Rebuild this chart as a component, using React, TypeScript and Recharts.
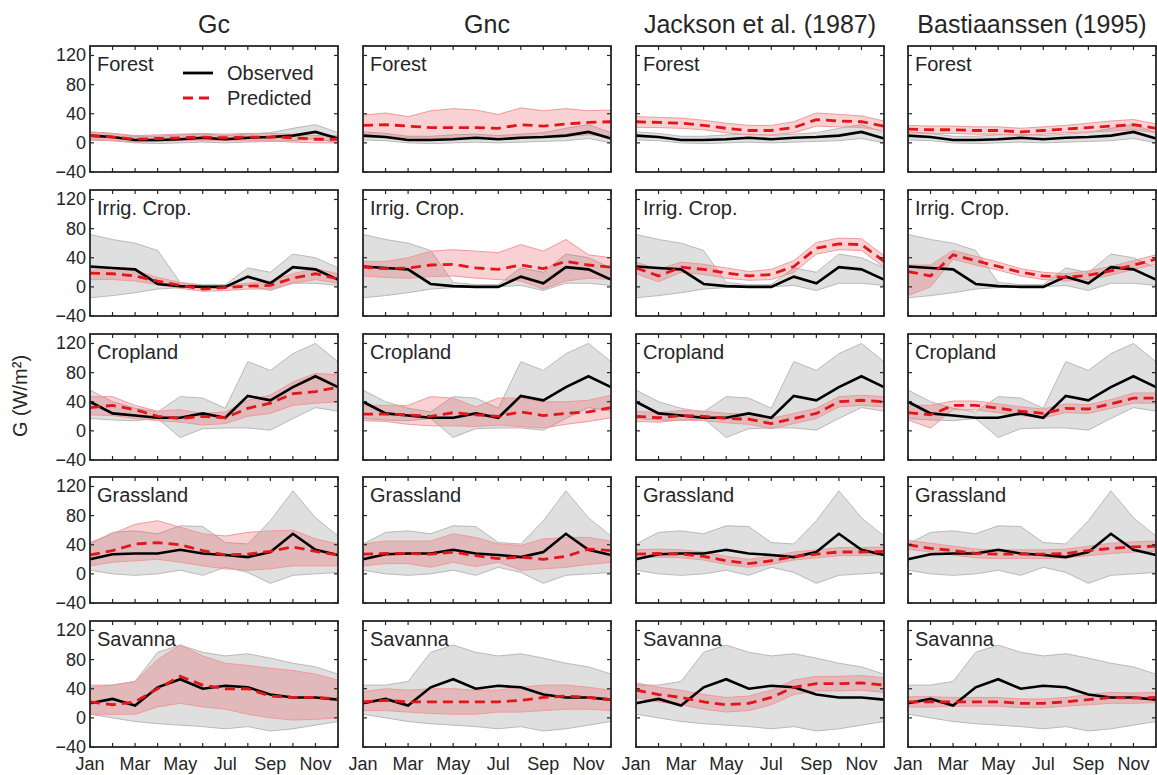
import { Area, ComposedChart, Line, XAxis, YAxis } from "recharts";

const months = ["Jan", "Feb", "Mar", "Apr", "May", "Jun", "Jul", "Aug", "Sep", "Oct", "Nov", "Dec"];
const monthTicks = [1, 2, 3, 4, 5, 6, 7, 8, 9, 10, 11, 12];
const yTicks = [-40, 0, 40, 80, 120];
const methods = ["Gc", "Gnc", "Jackson et al. (1987)", "Bastiaanssen (1995)"];
const landCovers = ["Forest", "Irrig. Crop.", "Cropland", "Grassland", "Savanna"];

// observed G, with its spread
const forestObs = [10, 8, 4, 4, 5, 7, 5, 7, 8, 10, 15, 6];
const forestObsLo = [4, 3, 0, -1, 0, 1, 0, 1, 2, 3, 6, 0];
const forestObsHi = [15, 13, 9, 9, 11, 12, 10, 12, 14, 20, 25, 14];
const irrigObs = [28, 26, 24, 4, 1, 0, 0, 14, 5, 27, 24, 10];
const irrigObsLo = [-15, -12, -8, -3, -1, 0, 0, 2, -5, 5, 5, 2];
const irrigObsHi = [72, 65, 60, 50, 6, 3, 3, 26, 20, 45, 40, 26];
const cropObs = [40, 24, 21, 18, 18, 24, 18, 48, 42, 60, 75, 60];
const cropObsLo = [17, 15, 14, 17, -9, 3, 4, 4, 1, 17, 32, 27];
const cropObsHi = [56, 40, 31, 26, 47, 45, 31, 95, 83, 106, 120, 95];
const grassObs = [20, 27, 28, 28, 33, 28, 26, 23, 30, 55, 33, 26];
const grassObsLo = [5, 0, -2, 0, 5, -2, 9, 2, -13, -2, 0, 2];
const grassObsHi = [41, 57, 59, 55, 66, 65, 43, 41, 73, 114, 77, 52];
const savObs = [20, 26, 17, 42, 53, 40, 44, 42, 32, 28, 28, 25];
const savObsLo = [5, 0, -5, -8, -10, -12, -15, -12, -18, -15, -10, -5];
const savObsHi = [45, 45, 50, 90, 100, 90, 85, 88, 82, 75, 70, 60];

// predicted G per method
const forestGc = [10, 8, 5, 6, 7, 8, 7, 8, 8, 7, 5, 5];
const forestGcLo = [4, 3, 1, 2, 3, 3, 3, 3, 3, 1, 0, 0];
const forestGcHi = [15, 13, 10, 11, 12, 13, 12, 13, 13, 12, 10, 10];
const forestGnc = [24, 25, 23, 21, 21, 21, 20, 25, 23, 26, 28, 29];
const forestGncLo = [8, 9, 7, 6, 7, 7, 6, 8, 8, 9, 11, 10];
const forestGncHi = [38, 41, 36, 44, 47, 45, 39, 48, 44, 47, 44, 45];
const forestJac = [29, 28, 27, 24, 20, 17, 17, 21, 32, 30, 29, 23];
const forestJacLo = [21, 21, 20, 18, 14, 11, 11, 14, 23, 22, 21, 17];
const forestJacHi = [36, 35, 34, 31, 27, 24, 24, 29, 41, 39, 37, 30];
const forestBas = [19, 18, 18, 17, 17, 15, 17, 19, 21, 23, 25, 20];
const forestBasLo = [14, 13, 13, 12, 12, 10, 12, 14, 15, 16, 18, 14];
const forestBasHi = [24, 23, 23, 22, 22, 20, 22, 24, 27, 30, 32, 26];

const irrigGc = [19, 18, 15, 8, 2, -3, -1, 1, 2, 12, 18, 11];
const irrigGcLo = [10, 10, 8, 3, -2, -6, -5, -3, -3, 5, 10, 5];
const irrigGcHi = [27, 26, 22, 13, 6, 1, 2, 5, 8, 18, 25, 18];
const irrigGnc = [27, 25, 26, 30, 31, 26, 24, 30, 25, 35, 30, 27];
const irrigGncLo = [15, 13, 12, 14, 15, 12, 10, 8, -3, 8, 12, 10];
const irrigGncHi = [35, 35, 40, 49, 51, 49, 47, 58, 49, 65, 44, 40];
const irrigJac = [26, 15, 27, 24, 19, 15, 17, 28, 53, 59, 58, 35];
const irrigJacLo = [18, 7, 20, 17, 12, 9, 10, 20, 45, 51, 50, 27];
const irrigJacHi = [34, 24, 34, 31, 26, 21, 24, 36, 61, 67, 66, 43];
const irrigBas = [21, 15, 44, 36, 28, 20, 15, 13, 16, 22, 30, 38];
const irrigBasLo = [-12, 0, 38, 30, 23, 15, 10, 8, 10, 16, 24, 31];
const irrigBasHi = [30, 30, 50, 42, 34, 25, 20, 18, 22, 28, 36, 44];

const cropGc = [32, 35, 29, 20, 17, 20, 18, 31, 38, 51, 54, 60];
const cropGcLo = [22, 21, 17, 14, 12, 8, 10, 20, 24, 35, 38, 40];
const cropGcHi = [47, 47, 35, 27, 29, 24, 26, 42, 49, 67, 79, 77];
const cropGnc = [23, 23, 22, 20, 25, 22, 20, 26, 21, 24, 26, 32];
const cropGncLo = [14, 13, 9, 7, 7, 6, 8, 6, 4, 9, 13, 18];
const cropGncHi = [35, 35, 35, 47, 45, 33, 45, 45, 40, 40, 42, 49];
const cropJac = [20, 18, 21, 20, 17, 16, 10, 17, 24, 40, 42, 40];
const cropJacLo = [13, 12, 15, 14, 11, 9, 3, 10, 17, 33, 35, 33];
const cropJacHi = [27, 25, 28, 27, 24, 23, 17, 24, 31, 47, 49, 47];
const cropBas = [25, 22, 35, 35, 31, 27, 24, 31, 30, 37, 45, 45];
const cropBasLo = [15, 4, 29, 29, 25, 21, 18, 25, 24, 31, 38, 38];
const cropBasHi = [35, 35, 41, 41, 37, 33, 30, 37, 36, 43, 52, 52];

const grassGc = [26, 32, 41, 43, 40, 32, 26, 27, 31, 37, 31, 26];
const grassGcLo = [11, 16, 18, 20, 16, 11, 7, 5, 7, 11, 11, 11];
const grassGcHi = [43, 55, 68, 73, 64, 55, 52, 57, 59, 60, 48, 41];
const grassGnc = [27, 28, 28, 27, 30, 25, 21, 23, 20, 24, 34, 32];
const grassGncLo = [11, 14, 14, 9, 16, 10, 16, 5, 7, 9, 13, 16];
const grassGncHi = [41, 45, 45, 45, 55, 50, 41, 39, 48, 50, 50, 45];
const grassJac = [27, 28, 27, 24, 18, 14, 18, 24, 27, 30, 30, 31];
const grassJacLo = [22, 23, 22, 19, 13, 9, 13, 19, 22, 25, 25, 26];
const grassJacHi = [33, 34, 33, 30, 24, 20, 24, 30, 33, 36, 36, 37];
const grassBas = [40, 35, 32, 28, 27, 27, 27, 28, 32, 35, 37, 38];
const grassBasLo = [34, 30, 26, 22, 21, 21, 21, 22, 25, 28, 30, 31];
const grassBasHi = [46, 42, 38, 34, 33, 33, 33, 34, 38, 42, 44, 45];

const savGc = [22, 18, 22, 40, 57, 45, 40, 40, 30, 28, 28, 26];
const savGcLo = [5, 5, 5, 15, 20, 15, 12, 5, 0, -3, -2, 0];
const savGcHi = [42, 45, 50, 80, 100, 85, 75, 72, 68, 65, 60, 52];
const savGnc = [22, 24, 22, 22, 22, 22, 22, 24, 28, 30, 28, 25];
const savGncLo = [10, 10, 8, 6, 5, 5, 8, 8, 10, 12, 12, 10];
const savGncHi = [36, 40, 38, 40, 40, 38, 38, 42, 45, 45, 42, 38];
const savJac = [38, 32, 28, 22, 18, 20, 28, 42, 47, 47, 48, 45];
const savJacLo = [28, 22, 18, 12, 8, 10, 18, 32, 37, 37, 38, 35];
const savJacHi = [48, 42, 38, 32, 28, 30, 38, 52, 57, 57, 58, 55];
const savBas = [22, 22, 22, 22, 22, 20, 20, 22, 25, 28, 27, 28];
const savBasLo = [15, 15, 16, 16, 16, 14, 14, 16, 18, 20, 20, 21];
const savBasHi = [29, 29, 28, 28, 28, 26, 26, 28, 32, 35, 34, 35];

type Band = { mid: number[]; lo: number[]; hi: number[] };

const observed: Band[] = [
  { mid: forestObs, lo: forestObsLo, hi: forestObsHi },
  { mid: irrigObs, lo: irrigObsLo, hi: irrigObsHi },
  { mid: cropObs, lo: cropObsLo, hi: cropObsHi },
  { mid: grassObs, lo: grassObsLo, hi: grassObsHi },
  { mid: savObs, lo: savObsLo, hi: savObsHi },
];

const predicted: Band[][] = [
  [
    { mid: forestGc, lo: forestGcLo, hi: forestGcHi },
    { mid: forestGnc, lo: forestGncLo, hi: forestGncHi },
    { mid: forestJac, lo: forestJacLo, hi: forestJacHi },
    { mid: forestBas, lo: forestBasLo, hi: forestBasHi },
  ],
  [
    { mid: irrigGc, lo: irrigGcLo, hi: irrigGcHi },
    { mid: irrigGnc, lo: irrigGncLo, hi: irrigGncHi },
    { mid: irrigJac, lo: irrigJacLo, hi: irrigJacHi },
    { mid: irrigBas, lo: irrigBasLo, hi: irrigBasHi },
  ],
  [
    { mid: cropGc, lo: cropGcLo, hi: cropGcHi },
    { mid: cropGnc, lo: cropGncLo, hi: cropGncHi },
    { mid: cropJac, lo: cropJacLo, hi: cropJacHi },
    { mid: cropBas, lo: cropBasLo, hi: cropBasHi },
  ],
  [
    { mid: grassGc, lo: grassGcLo, hi: grassGcHi },
    { mid: grassGnc, lo: grassGncLo, hi: grassGncHi },
    { mid: grassJac, lo: grassJacLo, hi: grassJacHi },
    { mid: grassBas, lo: grassBasLo, hi: grassBasHi },
  ],
  [
    { mid: savGc, lo: savGcLo, hi: savGcHi },
    { mid: savGnc, lo: savGncLo, hi: savGncHi },
    { mid: savJac, lo: savJacLo, hi: savJacHi },
    { mid: savBas, lo: savBasLo, hi: savBasHi },
  ],
];

// layout
const FONT = "'Liberation Sans', Arial, Helvetica, sans-serif";
const INK = "#262626";
const PLOT_L = [90, 363, 636, 908];
const PLOT_T = [46, 190, 334, 477, 621];
const PW = 248;
const PH = 126;
const M = 4;
const AXIS_W = 50;
const AXIS_H = 30;
const TICK = 4;

function XTick(props: any) {
  const { x, payload, showLabel } = props;
  const bottom = M + PH;
  const v = payload.value as number;
  return (
    <g>
      <line x1={x} x2={x} y1={bottom} y2={bottom - TICK} stroke={INK} strokeWidth={1.2} />
      <line x1={x} x2={x} y1={M} y2={M + TICK} stroke={INK} strokeWidth={1.2} />
      {showLabel && v % 2 === 1 ? (
        <text x={x} y={bottom + 23} textAnchor="middle" fontSize={18} fontFamily={FONT} fill={INK}>
          {months[v - 1]}
        </text>
      ) : null}
    </g>
  );
}

function YTick(props: any) {
  const { y, payload, showLabel } = props;
  const left = M + AXIS_W;
  const right = left + PW;
  const v = payload.value as number;
  return (
    <g>
      <line x1={left} x2={left + TICK} y1={y} y2={y} stroke={INK} strokeWidth={1.2} />
      <line x1={right - TICK} x2={right} y1={y} y2={y} stroke={INK} strokeWidth={1.2} />
      {showLabel ? (
        <text x={left - 4} y={y + 6} textAnchor="end" fontSize={18} fontFamily={FONT} fill={INK}>
          {v < 0 ? `\u2212${Math.abs(v)}` : `${v}`}
        </text>
      ) : null}
    </g>
  );
}

function Panel({ row, col }: { row: number; col: number }) {
  const obs = observed[row];
  const pred = predicted[row][col];
  const data = months.map((_, i) => ({
    m: i + 1,
    obs: obs.mid[i],
    obsRange: [obs.lo[i], obs.hi[i]],
    pred: pred.mid[i],
    predRange: [pred.lo[i], pred.hi[i]],
  }));

  return (
    <div style={{ position: "absolute", left: PLOT_L[col] - AXIS_W - M, top: PLOT_T[row] - M }}>
      <ComposedChart
        width={M + AXIS_W + PW + M}
        height={M + PH + AXIS_H + M}
        data={data}
        margin={{ top: M, right: M, bottom: M, left: M }}
      >
        <XAxis
          dataKey="m"
          type="number"
          domain={[1, 12]}
          ticks={monthTicks}
          interval={0}
          axisLine={false}
          tickLine={false}
          height={AXIS_H}
          tick={(p: any) => <XTick {...p} showLabel={row === 4} />}
        />
        <YAxis
          type="number"
          domain={[-40, 133]}
          allowDataOverflow
          ticks={yTicks}
          interval={0}
          axisLine={false}
          tickLine={false}
          width={AXIS_W}
          tick={(p: any) => <YTick {...p} showLabel={col === 0} />}
        />
        <Area
          dataKey="obsRange"
          type="linear"
          stroke="#b9b9b9"
          strokeWidth={1}
          fill="#c4c4c4"
          fillOpacity={0.55}
          isAnimationActive={false}
        />
        <Area
          dataKey="predRange"
          type="linear"
          stroke="#ef9a9a"
          strokeWidth={1}
          fill="#e8474c"
          fillOpacity={0.25}
          isAnimationActive={false}
        />
        <Line dataKey="obs" type="linear" stroke="#000" strokeWidth={2.6} dot={false} isAnimationActive={false} />
        <Line
          dataKey="pred"
          type="linear"
          stroke="#e0161b"
          strokeWidth={2.8}
          strokeDasharray="10 6"
          dot={false}
          isAnimationActive={false}
        />
      </ComposedChart>
    </div>
  );
}

export default function App() {
  const cells: JSX.Element[] = [];
  landCovers.forEach((_, r) => methods.forEach((__, c) => cells.push(<Panel key={`${r}-${c}`} row={r} col={c} />)));

  return (
    <div style={{ position: "absolute", left: 0, top: 0, width: 1157, height: 775, background: "#fff", overflow: "hidden" }}>
      {cells}
      <svg width={1157} height={775} style={{ position: "absolute", left: 0, top: 0, pointerEvents: "none" }}>
        {methods.map((name, c) => (
          <text key={name} x={PLOT_L[c] + PW / 2} y={33} textAnchor="middle" fontSize={25} fontFamily={FONT} fill={INK}>
            {name}
          </text>
        ))}
        {landCovers.map((lc, r) =>
          methods.map((_, c) => (
            <g key={`${lc}-${c}`}>
              <rect x={PLOT_L[c]} y={PLOT_T[r]} width={PW} height={PH} fill="none" stroke={INK} strokeWidth={1.8} />
              <text x={PLOT_L[c] + 7} y={PLOT_T[r] + 25} fontSize={20} fontFamily={FONT} fill={INK}>
                {lc}
              </text>
            </g>
          )),
        )}
        <line x1={PLOT_L[0] + 93} x2={PLOT_L[0] + 123} y1={PLOT_T[0] + 27} y2={PLOT_T[0] + 27} stroke="#000" strokeWidth={2.8} />
        <text x={PLOT_L[0] + 137} y={PLOT_T[0] + 34} fontSize={20} fontFamily={FONT} fill={INK}>
          Observed
        </text>
        <line
          x1={PLOT_L[0] + 93}
          x2={PLOT_L[0] + 123}
          y1={PLOT_T[0] + 52}
          y2={PLOT_T[0] + 52}
          stroke="#e0161b"
          strokeWidth={2.8}
          strokeDasharray="10 6"
        />
        <text x={PLOT_L[0] + 137} y={PLOT_T[0] + 59} fontSize={20} fontFamily={FONT} fill={INK}>
          Predicted
        </text>
        <text
          transform="translate(27 396) rotate(-90)"
          textAnchor="middle"
          fontSize={20}
          fontFamily={FONT}
          fill={INK}
        >
          G (W/m²)
        </text>
      </svg>
    </div>
  );
}
